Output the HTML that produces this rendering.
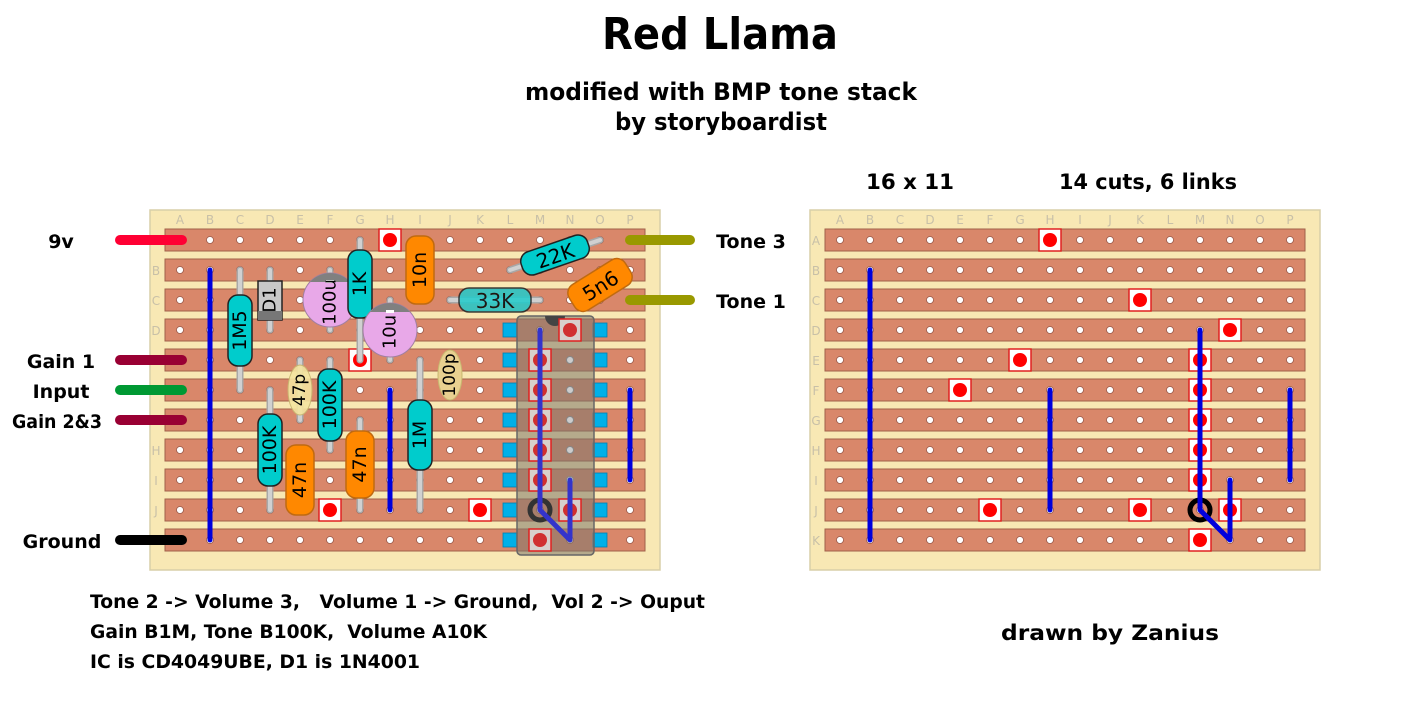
<!DOCTYPE html>
<html><head><meta charset="utf-8"><style>
html,body{margin:0;padding:0;background:#fff;width:1415px;height:706px;overflow:hidden}
svg{display:block}
</style></head><body>
<svg id="s" width="1415" height="706" xmlns="http://www.w3.org/2000/svg" font-family="'DejaVu Sans', sans-serif">
<g font-weight="bold" fill="#000" font-family="'DejaVu Sans','Liberation Sans',sans-serif">
<text x="720" y="49" font-size="44" text-anchor="middle" textLength="236" lengthAdjust="spacingAndGlyphs">Red Llama</text>
<text x="721" y="100" font-size="24" text-anchor="middle" textLength="392" lengthAdjust="spacingAndGlyphs">modified with BMP tone stack</text>
<text x="721" y="130" font-size="24" text-anchor="middle" textLength="212" lengthAdjust="spacingAndGlyphs">by storyboardist</text>
<text x="910" y="189" font-size="21" text-anchor="middle" textLength="88" lengthAdjust="spacingAndGlyphs">16 x 11</text>
<text x="1148" y="189" font-size="21" text-anchor="middle" textLength="178" lengthAdjust="spacingAndGlyphs">14 cuts, 6 links</text>
<text x="61" y="248" font-size="19" text-anchor="middle">9v</text>
<text x="61" y="368" font-size="19" text-anchor="middle">Gain 1</text>
<text x="61" y="398" font-size="19" text-anchor="middle">Input</text>
<text x="57" y="428" font-size="19" text-anchor="middle" textLength="90" lengthAdjust="spacingAndGlyphs">Gain 2&amp;3</text>
<text x="62" y="548" font-size="19" text-anchor="middle">Ground</text>
<text x="751" y="248" font-size="19" text-anchor="middle">Tone 3</text>
<text x="751" y="308" font-size="19" text-anchor="middle">Tone 1</text>
<text x="90" y="608" font-size="19" textLength="615" lengthAdjust="spacingAndGlyphs" xml:space="preserve" style="white-space:pre">Tone 2 -&gt; Volume 3,   Volume 1 -&gt; Ground,  Vol 2 -&gt; Ouput</text>
<text x="90" y="638" font-size="19" textLength="397" lengthAdjust="spacingAndGlyphs" xml:space="preserve" style="white-space:pre">Gain B1M, Tone B100K,  Volume A10K</text>
<text x="90" y="668" font-size="19" textLength="330" lengthAdjust="spacingAndGlyphs">IC is CD4049UBE, D1 is 1N4001</text>
<text x="1110" y="640" font-size="21" text-anchor="middle" textLength="218" lengthAdjust="spacingAndGlyphs">drawn by Zanius</text>
</g>
<g id="L"></g><g id="R"></g>
</svg>
<script>
const NS="http://www.w3.org/2000/svg";
function el(p,t,a,txt){const e=document.createElementNS(NS,t);for(const k in a)e.setAttribute(k,a[k]);if(txt!=null)e.textContent=txt;p.appendChild(e);return e;}
function board(g,ox){
 el(g,'rect',{x:ox,y:210,width:510,height:360,fill:'#f8e8b4',stroke:'#d8cfa8','stroke-width':1.5});
 const L='ABCDEFGHIJKLMNOP',Rw='ABCDEFGHIJK';
 for(let j=0;j<11;j++){
  el(g,'rect',{x:ox+15,y:229+30*j,width:480,height:22,fill:'#d9876a',stroke:'#a0604a','stroke-width':1});
  el(g,'text',{x:ox+6,y:245+30*j,'font-size':12,fill:'#c8c0a8','text-anchor':'middle'},Rw[j]);
  for(let i=0;i<16;i++) el(g,'circle',{cx:ox+30+30*i,cy:240+30*j,r:3.5,fill:'#fff',stroke:'#9a5a4a','stroke-width':0.8});
 }
 for(let i=0;i<16;i++) el(g,'text',{x:ox+30+30*i,y:224,'font-size':12,fill:'#c8c0a8','text-anchor':'middle'},L[i]);
}
function cut(g,x,y,ic){el(g,'rect',{x:x-11,y:y-11,width:22,height:22,fill:ic?'#d8d0cc':'#fff',stroke:'#e02020','stroke-width':1.5});el(g,'circle',{cx:x,cy:y,r:7,fill:ic?'#d03030':'#f00'});}
function line(g,pts,c,w){el(g,'polyline',{points:pts,fill:'none',stroke:c,'stroke-width':w,'stroke-linecap':'round','stroke-linejoin':'round'});}
function lead(g,x1,y1,x2,y2){line(g,`${x1},${y1} ${x2},${y2}`,'#a8a8a8',7);line(g,`${x1},${y1} ${x2},${y2}`,'#d0d0d0',4);}
function vcomp(g,x,y1,y2,w,fill,txt,ld){if(ld)lead(g,x,ld[0],x,ld[1]);
 el(g,'rect',{x:x-w/2,y:y1,width:w,height:y2-y1,rx:10,fill:fill,stroke:fill=='#ff8800'?'#c06a10':'#222','stroke-width':1.5});
 el(g,'text',{x:x,y:(y1+y2)/2,'font-size':19,'text-anchor':'middle','dominant-baseline':'central',transform:`rotate(-90 ${x} ${(y1+y2)/2})`},txt);}
function dcomp(g,cx,cy,len,w,ang,fill,txt,op){const gg=el(g,'g',{transform:`translate(${cx} ${cy}) rotate(${ang})`,opacity:op||1});
 el(gg,'rect',{x:-len/2,y:-w/2,width:len,height:w,rx:10,fill:fill,stroke:fill=='#ff8800'?'#c06a10':'#222','stroke-width':1.5});
 el(gg,'text',{x:0,y:1,'font-size':20,'text-anchor':'middle','dominant-baseline':'central'},txt);}
const Lg=document.getElementById('L'),Rg=document.getElementById('R');
board(Lg,150);board(Rg,810);
[[240,'#ff0033'],[360,'#990033'],[390,'#009933'],[420,'#990033'],[540,'#000']].forEach(a=>line(Lg,`120,${a[0]} 182,${a[0]}`,a[1],10));
[[240,'#999900'],[300,'#999900']].forEach(a=>line(Lg,`630,${a[0]} 690,${a[0]}`,a[1],10));
line(Lg,'210,270 210,540','#0000dd',5);line(Lg,'390,390 390,510','#0000dd',5);line(Lg,'630,390 630,480','#0000dd',5);
[[390,240],[360,360],[330,510],[480,510]].forEach(p=>cut(Lg,p[0],p[1]));
lead(Lg,240,270,240,390);vcomp(Lg,240,295,366,24,'#00cccc','1M5');
lead(Lg,270,270,270,330);el(Lg,'rect',{x:258,y:281,width:24,height:39,fill:'#c8c8c8',stroke:'#222','stroke-width':1.5});el(Lg,'rect',{x:258,y:311,width:24,height:9,fill:'#777'});
el(Lg,'text',{x:270,y:300,'font-size':18,'text-anchor':'middle','dominant-baseline':'central',transform:'rotate(-90 270 300)'},'D1');
lead(Lg,330,270,330,330);
function cap(x,y,t){el(Lg,'circle',{cx:x,cy:y,r:27,fill:'#e8a8e8',stroke:'#a080a0','stroke-width':1});
 el(Lg,'path',{d:`M${x-20} ${y-18} A27 27 0 0 1 ${x+20} ${y-18} Z`,fill:'#808080'});el(Lg,'rect',{x:x-4,y:y-20,width:8,height:3,fill:'#fff'});
 el(Lg,'text',{x:x,y:y+2,'font-size':18,'text-anchor':'middle','dominant-baseline':'central',transform:`rotate(-90 ${x} ${y+2})`},t);}
cap(330,300,'100u');
vcomp(Lg,360,250,318,24,'#00cccc','1K',[240,360]);
lead(Lg,390,300,390,360);cap(390,330,'10u');
vcomp(Lg,420,236,304,28,'#ff8800','10n');
lead(Lg,510,270,600,240);dcomp(Lg,555,255,70,24,-19,'#00cccc','22K');
lead(Lg,450,300,540,300);dcomp(Lg,495,300,72,24,0,'#22cccc','33K',0.85);
dcomp(Lg,600,285,66,30,-32,'#ff8800','5n6');
lead(Lg,300,360,300,420);el(Lg,'ellipse',{cx:300,cy:390,rx:12,ry:25,fill:'#f4e4a0',stroke:'#c8b870','stroke-width':1,opacity:0.9});
el(Lg,'text',{x:300,y:390,'font-size':17,'text-anchor':'middle','dominant-baseline':'central',transform:'rotate(-90 300 390)'},'47p');
el(Lg,'ellipse',{cx:450,cy:375,rx:12,ry:25,fill:'#e8d090',stroke:'#c8b870','stroke-width':1});
el(Lg,'text',{x:450,y:375,'font-size':17,'text-anchor':'middle','dominant-baseline':'central',transform:'rotate(-90 450 375)'},'100p');
vcomp(Lg,330,369,441,24,'#00cccc','100K',[360,450]);
vcomp(Lg,270,414,486,24,'#00cccc','100K',[390,510]);
vcomp(Lg,300,445,515,28,'#ff8800','47n');
vcomp(Lg,360,431,498,28,'#ff8800','47n',[420,510]);
vcomp(Lg,420,400,470,24,'#00cccc','1M',[360,510]);
for(let j=0;j<8;j++){const y=330+30*j;el(Lg,'rect',{x:503,y:y-7,width:14,height:14,fill:'#00b0e8',stroke:'#0080b0','stroke-width':0.8});el(Lg,'rect',{x:593,y:y-7,width:14,height:14,fill:'#00b0e8',stroke:'#0080b0','stroke-width':0.8});}
el(Lg,'rect',{x:517,y:316,width:77,height:239,rx:4,fill:'rgba(125,118,108,0.55)',stroke:'#666','stroke-width':1.5});
el(Lg,'path',{d:'M545 316 A10 10 0 0 0 565 316 Z',fill:'#444'});
[[570,330],[540,360],[540,390],[540,420],[540,450],[540,480],[570,510],[540,540]].forEach(p=>cut(Lg,p[0],p[1],1));
for(let j=1;j<6;j++)el(Lg,'circle',{cx:570,cy:330+30*j,r:3.5,fill:'#ccc',stroke:'#888'});
el(Lg,'circle',{cx:540,cy:510,r:10,fill:'none',stroke:'#333','stroke-width':5});
line(Lg,'540,330 540,510 570,540 570,480','#3333cc',5);
line(Rg,'870,270 870,540','#0000dd',5);line(Rg,'1050,390 1050,510','#0000dd',5);line(Rg,'1290,390 1290,480','#0000dd',5);
[[1050,240],[1140,300],[1230,330],[1020,360],[960,390],[1200,360],[1200,390],[1200,420],[1200,450],[1200,480],[990,510],[1140,510],[1230,510],[1200,540]].forEach(p=>cut(Rg,p[0],p[1]));
el(Rg,'circle',{cx:1200,cy:510,r:10,fill:'none',stroke:'#000','stroke-width':5});
line(Rg,'1200,330 1200,510 1230,540 1230,480','#0000dd',5);
</script>
</body></html>
